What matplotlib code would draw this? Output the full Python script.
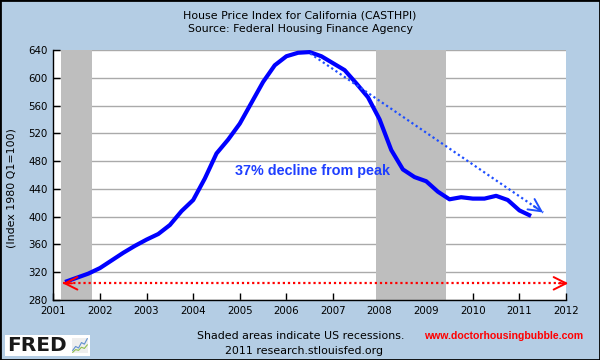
import numpy as np
import matplotlib
matplotlib.use("Agg")
import matplotlib.pyplot as plt
from matplotlib.patches import Rectangle

# quarterly House Price Index for California, 2001Q2 .. 2011Q2
dates = 2001.25 + 0.25 * np.arange(41)
hpi = [306, 312, 318, 326, 337, 348, 358, 367, 375, 388,
       408, 424, 455, 491, 511, 534, 564, 594, 618, 631,
       636, 637, 631, 621, 611, 592, 572, 540, 496, 468,
       457, 451, 436, 425, 428, 426, 426, 430, 424, 409, 401]

# US recessions (start, end) in decimal years
recessions = [(2001.16, 2001.83), (2007.917, 2009.42)]

# annotation arrows
decline_start = (2006.51, 635)
decline_end = (2011.51, 406)
baseline_y = 304
baseline_x = (2001.2, 2012.05)

yticks = [280, 320, 360, 400, 440, 480, 520, 560, 600, 640]
xticks = list(range(2001, 2013))

bg = '#b4cde4'
fig = plt.figure(figsize=(6, 3.6), dpi=100, facecolor=bg)
ax = fig.add_axes([53.4 / 600, 60 / 360, (566 - 53.4) / 600, 250 / 360])
ax.set_facecolor('white')

for s, e in recessions:
    ax.axvspan(s, e, color='#bebebe', lw=0, zorder=1)

ax.set_xlim(2001, 2012)
ax.set_ylim(280, 640)
ax.set_yticks(yticks)
ax.set_xticks(xticks)
ax.set_xticklabels([str(x) for x in xticks])
ax.yaxis.grid(True, color='#aaaaaa', lw=1, zorder=0.5)
ax.set_axisbelow(True)
for sp in ['top', 'right']:
    ax.spines[sp].set_visible(False)
for sp in ['left', 'bottom']:
    ax.spines[sp].set_color('black')
    ax.spines[sp].set_linewidth(1)
ax.tick_params(direction='in', length=5, width=1, labelsize=7.4, colors='black')
ax.tick_params(axis='y', pad=4)
ax.tick_params(axis='x', pad=4)

ax.plot(dates, hpi, color='#0000ff', lw=3.0, solid_capstyle='butt', zorder=3)

head = '->,head_length=0.9,head_width=0.45'

# blue dotted decline arrow
blue = '#1f4fff'
slope = (decline_start[1] - decline_end[1]) / (decline_end[0] - decline_start[0])
ax.plot([decline_start[0], decline_end[0]], [decline_start[1], decline_end[1]],
        color=blue, lw=1.6, ls=(0, (1, 1.3)), zorder=4)
ax.annotate('', xy=decline_end, xytext=(decline_end[0] - 0.2, decline_end[1] + 0.2 * slope),
            arrowprops=dict(arrowstyle=head, color=blue, lw=1.4, shrinkA=0, shrinkB=0),
            zorder=4)

# red dotted baseline double arrow
red = '#ff0000'
ax.plot(baseline_x, [baseline_y, baseline_y], color=red, lw=1.6, ls=(0, (1, 1.3)),
        zorder=4, clip_on=False)
for tip, back in [(baseline_x[1], baseline_x[1] - 0.2), (baseline_x[0], baseline_x[0] + 0.2)]:
    ax.annotate('', xy=(tip, baseline_y), xytext=(back, baseline_y),
                arrowprops=dict(arrowstyle=head, color=red, lw=1.4, shrinkA=0, shrinkB=0),
                zorder=4, annotation_clip=False)

ax.text(2004.9, 466, '37% decline from peak', color='#1f3fff', fontsize=10.4,
        fontweight='bold', family='Liberation Sans', va='center', ha='left', zorder=5)

# titles and footer
fig.text(0.5, 1 - 15 / 360, 'House Price Index for California (CASTHPI)',
         ha='center', va='center', fontsize=7.9)
fig.text(0.5, 1 - 29 / 360, 'Source: Federal Housing Finance Agency',
         ha='center', va='center', fontsize=7.9)
fig.text(12 / 600, 1 - 188 / 360, '(Index 1980 Q1=100)', rotation=90,
         ha='center', va='center', fontsize=7.9)
fig.text(197 / 600, 1 - 336 / 360, 'Shaded areas indicate US recessions.',
         ha='left', va='center', fontsize=7.9)
fig.text(225 / 600, 1 - 351 / 360, '2011 research.stlouisfed.org',
         ha='left', va='center', fontsize=7.9)
fig.text(424 / 600, 1 - 336 / 360, 'www.doctorhousingbubble.com', color=red,
         ha='left', va='center', fontsize=7.6, fontweight='bold', family='Liberation Sans')

# FRED logo
fig.patches.append(Rectangle((5 / 600, 1 - 356 / 360), 85 / 600, 21 / 360,
                             transform=fig.transFigure, facecolor='white', edgecolor='none'))
fig.text(7 / 600, 1 - 345.5 / 360, 'FRED', fontsize=14.5, fontweight='heavy',
         ha='left', va='center', color='#1a1a1a')
icon_a = [1, 2, 1.6, 3, 2.6, 4]
icon_b = [0.5, 1.2, 1.0, 1.8, 1.5, 2.4]
iax = fig.add_axes([72 / 600, 1 - 353 / 360, 16 / 600, 15 / 360], zorder=3)
iax.plot(icon_a, color='#5f8fcf', lw=0.8)
iax.plot(icon_b, color='#8fbf4f', lw=0.8)
iax.set_facecolor('#eeeeee')
iax.set_xticks([])
iax.set_yticks([])
for sp in iax.spines.values():
    sp.set_visible(False)

# outer black border
fig.patches.append(Rectangle((0, 0), 1, 1, transform=fig.transFigure,
                             facecolor='none', edgecolor='black', lw=2))

fig.savefig('out.png', dpi=100, facecolor=bg)
